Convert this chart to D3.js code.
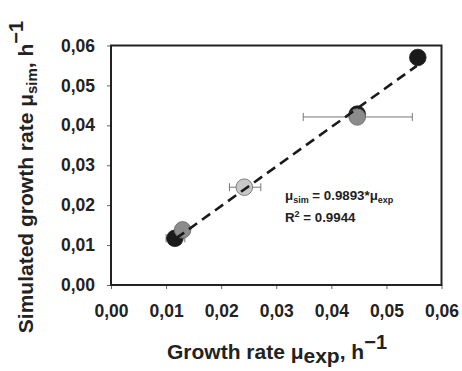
<!DOCTYPE html>
<html><head><meta charset="utf-8">
<script src="https://cdn.jsdelivr.net/npm/d3@7/dist/d3.min.js"></script>
<style>
body{margin:0;background:#fff;}
text{font-family:"Liberation Sans",Arial,sans-serif;font-weight:bold;fill:#222;}
</style></head><body>
<svg id="c" width="462" height="371"></svg>
<script>
// Data
const xTicks = [0,0.01,0.02,0.03,0.04,0.05,0.06];
const yTicks = [0,0.01,0.02,0.03,0.04,0.05,0.06];
const ptX    = [0.0116,0.0447,0.0557,0.0130,0.0447,0.0242];
const ptY    = [0.0117,0.0428,0.0570,0.0138,0.0421,0.0245];
const errLo  = [0.0100,null,null,null,0.0349,0.0215];
const errHi  = [0.0134,null,null,null,0.0547,0.0272];
const ptFill = ["#1a1a1a","#1a1a1a","#1a1a1a","#8c8c8c","#8c8c8c","#c8c8c8"];
const slope = 0.9893;
const fitX = [0.0118,0.0555];

const svg = d3.select("#c");
const L=111,R=441.5,T=45.5,B=285;
const x = d3.scaleLinear().domain([0,0.06]).range([L,R]);
const y = d3.scaleLinear().domain([0,0.06]).range([B,T]);
const fmt = d => d.toFixed(2).replace(".",",");

// axes
const xa = svg.append("g").attr("transform",`translate(0,${B})`)
  .call(d3.axisBottom(x).tickValues(xTicks).tickSize(4).tickPadding(16).tickFormat(fmt));
const ya = svg.append("g").attr("transform",`translate(${L},0)`)
  .call(d3.axisLeft(y).tickValues(yTicks).tickSize(4).tickPadding(12).tickFormat(fmt));
[xa,ya].forEach(a=>{a.select(".domain").remove();
  a.selectAll("line").attr("stroke","#666");
  a.selectAll("text").style("font-size","17.5px").attr("fill","#222");});

// frame
svg.append("rect").attr("x",L).attr("y",T).attr("width",R-L).attr("height",B-T)
  .attr("fill","none").attr("stroke","#222").attr("stroke-width",2);

// error bars
const idx = d3.range(ptX.length);
const eb = svg.append("g").attr("stroke","#777").attr("stroke-width",1);
idx.filter(i=>errLo[i]!=null).forEach(i=>{
  const yy=y(ptY[i]);
  eb.append("line").attr("x1",x(errLo[i])).attr("x2",x(errHi[i])).attr("y1",yy).attr("y2",yy);
  [errLo[i],errHi[i]].forEach(v=>eb.append("line").attr("x1",x(v)).attr("x2",x(v)).attr("y1",yy-4).attr("y2",yy+4));
});

// points
svg.append("g").selectAll("circle").data(idx).join("circle")
  .attr("cx",i=>x(ptX[i])).attr("cy",i=>y(ptY[i])).attr("r",8.3)
  .attr("fill",i=>ptFill[i]).attr("stroke",i=>ptFill[i]==="#1a1a1a"?"#1a1a1a":"#666").attr("stroke-width",0.8);

// fit line
svg.append("line").attr("x1",x(fitX[0])).attr("y1",y(slope*fitX[0]))
  .attr("x2",x(fitX[1])).attr("y2",y(slope*fitX[1]))
  .attr("stroke","#1a1a1a").attr("stroke-width",2.6).attr("stroke-dasharray","10,6");

// equation
const eq = svg.append("text").attr("x",285).attr("y",200).style("font-size","13.3px");
eq.append("tspan").text("μ");
eq.append("tspan").attr("dy",3).style("font-size","9px").text("sim");
eq.append("tspan").attr("dy",-3).text(" = 0.9893*μ");
eq.append("tspan").attr("dy",3).style("font-size","9px").text("exp");
const r2 = svg.append("text").attr("x",285).attr("y",222).style("font-size","13.3px");
r2.append("tspan").text("R");
r2.append("tspan").attr("dy",-5).style("font-size","9px").text("2");
r2.append("tspan").attr("dy",5).text(" = 0.9944");

// x label
const xl = svg.append("text").attr("x",277).attr("y",359).attr("text-anchor","middle").style("font-size","21px");
xl.append("tspan").text("Growth rate μ");
xl.append("tspan").attr("dy",4).text("exp");
xl.append("tspan").attr("dy",-4).text(", h");
xl.append("tspan").attr("dy",-10).style("font-size","20px").text("−1");

// y label
const yl = svg.append("text").attr("transform","translate(33,177) rotate(-90)").attr("text-anchor","middle").style("font-size","21px");
yl.append("tspan").text("Simulated growth rate μ");
yl.append("tspan").attr("dy",4).style("font-size","15px").text("sim");
yl.append("tspan").attr("dy",-4).text(", h");
yl.append("tspan").attr("dy",-10).style("font-size","20px").text("−1");
</script></body></html>
